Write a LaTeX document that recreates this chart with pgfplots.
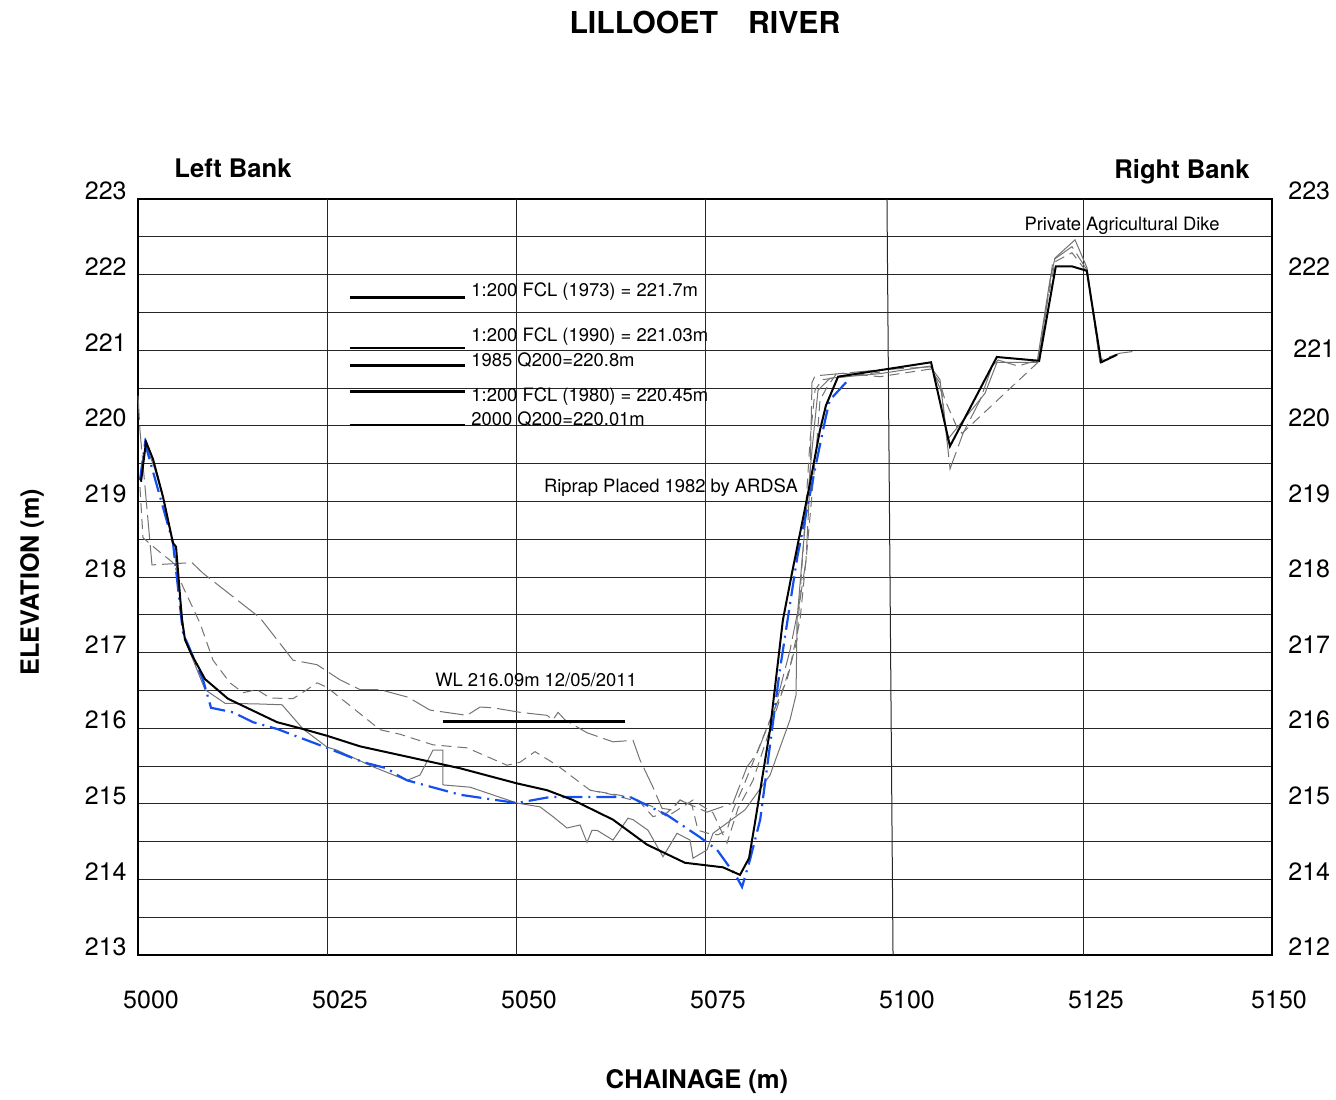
\documentclass[border=0pt]{standalone}
\usepackage{fontspec}
\setmainfont{TeX Gyre Heros}
\usepackage{pgfplots}
\pgfplotsset{compat=1.18}
\definecolor{surveyblue}{RGB}{20,80,240}
\colorlet{oldsurvey}{black!55}

\begin{document}
\begin{tikzpicture}
\useasboundingbox (0,0) rectangle (668pt,549.5pt);
% main cross-section axis (left elevation scale)
\begin{axis}[
  at={(69pt,72pt)}, anchor=south west,
  scale only axis, width=567pt, height=378pt,
  xmin=5000, xmax=5150, ymin=213, ymax=223,
  xtick={5000,5025,5050,5075,5100,5125,5150},
  xticklabels={5000,5025,5050,5075,5100,5125,\hspace{-6pt}5150},
  ytick={213,...,223},
  minor ytick={213.5,214.5,...,222.5},
  ymajorgrids, yminorgrids,
  major grid style={black!85, line width=0.5pt},
  minor grid style={black!85, line width=0.5pt},
  major tick length=0pt, minor tick length=0pt,
  axis line style={black, line width=0.6pt},
  tick label style={font=\fontsize{12.5}{15}\selectfont, inner sep=0pt},
  xticklabel style={anchor=center, yshift=-22.5pt, xshift=6.5pt},
  yticklabel style={anchor=east, xshift=-5.5pt, yshift=4pt},
  /pgf/number format/assume math mode=true,
  clip=false,
]
% vertical chainage lines
\draw[black!85, line width=0.5pt] (axis cs:5025,213) -- (axis cs:5025,223);
\draw[black!85, line width=0.5pt] (axis cs:5050,213) -- (axis cs:5050,223);
\draw[black!85, line width=0.5pt] (axis cs:5075,213) -- (axis cs:5075,223);
\draw[black!85, line width=0.5pt] (axis cs:5099.07,223) -- (axis cs:5099.87,213);
\draw[black!85, line width=0.5pt] (axis cs:5125,213) -- (axis cs:5125,223);

% earlier surveys (gray)
\addplot[oldsurvey, line width=0.5pt, dash pattern=on 12pt off 3pt] coordinates {
 (5000.0,220.40) (5000.26,219.94) (5001.85,218.16) (5007.14,218.19) (5008.60,218.05)
 (5016.14,217.46) (5020.50,216.90) (5023.68,216.84) (5026.72,216.64) (5029.37,216.51)
 (5032.01,216.51) (5035.71,216.41) (5038.62,216.24) (5043.52,216.17) (5045.24,216.28)
 (5046.96,216.27) (5050.53,216.21) (5054.10,216.17) (5054.89,216.11) (5055.56,216.21)
 (5056.48,216.11) (5059.39,215.94) (5062.83,215.82) (5065.48,215.84) (5066.40,215.58)
 (5068.12,215.22) (5069.31,214.94) (5070.63,214.92) (5071.69,215.05) (5075.26,214.89)
 (5078.70,215.01) (5080.56,215.49) (5081.88,215.67) (5084.26,216.27) (5086.24,217.03)
 (5087.57,217.70) (5088.36,218.22) (5088.89,219.28) (5089.15,220.57) (5089.55,220.66)
 (5098.15,220.74) (5104.89,220.78) (5106.35,220.43) (5107.41,219.43) (5109.13,219.90)
 (5111.38,220.34) (5112.96,220.78) (5113.76,220.87) (5116.40,220.79) (5119.05,220.87)
 (5119.71,221.23) (5121.03,222.19) (5123.54,222.37) (5125.53,222.06) (5127.25,220.87)
 (5129.89,220.96) (5132.14,220.99)
};
\addplot[oldsurvey, line width=0.5pt, dash pattern=on 5pt off 3pt] coordinates {
 (5000.26,219.19) (5000.66,218.52) (5002.51,218.36) (5004.63,218.19) (5005.95,217.87)
 (5008.20,217.39) (5009.92,216.90) (5012.17,216.60) (5013.89,216.47) (5015.74,216.51)
 (5017.46,216.40) (5020.50,216.39) (5022.35,216.51) (5023.68,216.60) (5025.00,216.54)
 (5027.65,216.33) (5032.01,215.98) (5034.66,215.92) (5039.02,215.78) (5043.52,215.74)
 (5048.81,215.51) (5050.53,215.55) (5052.51,215.69) (5055.42,215.51) (5059.79,215.18)
 (5065.08,215.09) (5068.12,214.96) (5069.97,214.83) (5073.41,215.05) (5076.06,214.88)
 (5077.91,214.48) (5079.37,214.94) (5081.35,215.31) (5084.66,216.31) (5086.24,216.81)
 (5087.57,217.43) (5088.49,218.36) (5089.81,219.81) (5090.21,220.34) (5091.14,220.51)
 (5092.46,220.70) (5098.15,220.65) (5104.76,220.75) (5106.08,220.57) (5106.75,220.34)
 (5108.33,219.98) (5108.99,219.90) (5119.05,220.84) (5120.24,221.62) (5121.30,222.17)
 (5123.54,222.29) (5125.53,222.03) (5127.25,220.84)
};
\addplot[oldsurvey, line width=0.5pt] coordinates {
 (5000.40,219.42) (5001.06,219.75) (5002.25,219.42) (5003.57,218.95) (5004.89,218.29)
 (5006.22,217.17) (5008.86,216.51) (5011.51,216.33) (5016.14,216.32) (5019.05,216.31)
 (5021.83,215.99) (5025.00,215.75) (5026.32,215.71) (5031.08,215.49) (5035.58,215.31)
 (5037.30,215.38) (5039.02,215.71) (5040.34,215.71) (5040.34,215.25) (5043.92,215.22)
 (5050.13,215.01) (5053.17,214.96) (5054.89,214.83) (5056.75,214.68) (5058.47,214.72)
 (5059.39,214.49) (5060.05,214.65) (5060.71,214.65) (5062.83,214.52) (5064.81,214.81)
 (5065.48,214.79) (5067.46,214.65) (5069.44,214.30) (5071.30,214.61) (5073.02,214.52)
 (5073.41,214.28) (5075.26,214.39) (5076.06,214.61) (5080.29,214.92) (5083.60,215.38)
 (5086.24,216.11) (5087.04,216.44) (5087.17,217.43) (5087.83,218.22) (5089.15,219.68)
 (5089.95,220.47) (5091.53,220.63) (5098.15,220.69) (5104.76,220.79) (5106.08,220.61)
 (5107.01,219.81) (5108.07,219.94) (5112.04,220.43) (5113.62,220.84) (5118.92,220.84)
 (5120.63,221.93) (5121.30,222.22) (5123.94,222.46) (5125.53,222.09) (5127.25,220.84)
 (5129.63,220.95)
};
\addplot[oldsurvey, line width=0.5pt, dash pattern=on 5pt off 3pt] coordinates {
 (5059.79,215.18) (5062.83,215.12) (5066.40,215.02) (5068.12,214.83) (5069.97,214.88)
 (5071.69,215.05) (5073.28,214.98) (5074.07,214.65) (5075.40,214.61) (5076.72,214.59)
 (5077.91,214.65) (5078.70,214.92) (5080.03,215.22) (5080.95,215.45) (5083.60,216.11)
 (5085.85,216.64) (5087.17,217.17) (5088.23,218.75) (5088.89,219.81) (5089.55,220.47)
 (5090.48,220.61) (5098.15,220.71)
};

% blue survey
\addplot[surveyblue, line width=1.1pt, dash pattern=on 10pt off 3pt on 1pt off 3pt] coordinates {
 (5000.26,219.28) (5000.93,219.77) (5004.63,218.45) (5005.95,217.26) (5008.60,216.64)
 (5009.66,216.27) (5012.57,216.21) (5015.20,216.08) (5018.40,215.99) (5025.00,215.74)
 (5029.80,215.55) (5032.90,215.47) (5034.30,215.38) (5035.60,215.31) (5042.60,215.12)
 (5050.10,215.01) (5054.50,215.09) (5065.10,215.09) (5070.00,214.85) (5074.30,214.56)
 (5076.60,214.39) (5079.20,214.03) (5079.90,213.90) (5080.95,214.26) (5082.30,214.79)
 (5084.90,216.77) (5087.20,218.26) (5089.80,219.55) (5090.90,220.08) (5091.50,220.34)
 (5093.80,220.59)
};

% latest survey (black)
\addplot[black, line width=1pt] coordinates {
 (5000.40,219.26) (5001.06,219.79) (5001.98,219.56) (5003.31,219.06) (5004.63,218.45)
 (5005.03,218.40) (5005.82,217.43) (5006.22,217.17) (5007.01,216.99) (5008.86,216.65)
 (5011.90,216.39) (5018.39,216.08) (5021.80,215.99) (5025.00,215.90) (5029.37,215.76)
 (5042.60,215.47) (5050.13,215.27) (5054.10,215.18) (5057.54,215.05) (5062.83,214.79)
 (5067.33,214.46) (5072.35,214.22) (5077.38,214.16) (5079.63,214.06) (5080.82,214.28)
 (5081.61,214.75) (5083.60,215.98) (5085.30,217.43) (5086.50,218.05) (5087.57,218.58)
 (5088.89,219.24) (5090.20,219.94) (5091.00,220.27) (5092.60,220.65) (5104.90,220.84)
 (5107.40,219.73) (5113.60,220.91) (5119.20,220.86) (5121.40,222.11) (5123.50,222.11)
 (5125.50,222.05) (5127.40,220.84) (5129.50,220.94)
};

% design levels
\addplot[black, line width=1.4pt] coordinates {(5028.0,221.70) (5043.25,221.70)};
\addplot[black, line width=1.4pt] coordinates {(5028.0,221.03) (5043.25,221.03)};
\addplot[black, line width=1.4pt] coordinates {(5028.0,220.80) (5043.25,220.80)};
\addplot[black, line width=1.4pt] coordinates {(5028.0,220.45) (5043.25,220.45)};
\addplot[black, line width=1.4pt] coordinates {(5028.0,220.01) (5043.25,220.01)};
% water level
\addplot[black, line width=1.4pt] coordinates {(5040.3,216.09) (5064.4,216.09)};

\begin{scope}[every node/.style={inner sep=0pt, font=\fontsize{9.2}{11}\selectfont}]
\node[anchor=west] at (axis cs:5044.05,221.77) {1:200 FCL (1973) = 221.7m};
\node[anchor=west] at (axis cs:5044.05,221.175) {1:200 FCL (1990) = 221.03m};
\node[anchor=west] at (axis cs:5044.05,220.87) {1985 Q200=220.8m};
\node[anchor=west] at (axis cs:5044.05,220.38) {1:200 FCL (1980) = 220.45m};
\node[anchor=west] at (axis cs:5044.05,220.09) {2000 Q200=220.01m};
\node at (axis cs:5130.16,222.64) {Private Agricultural Dike};
\node at (axis cs:5070.50,219.18) {Riprap Placed 1982 by ARDSA};
\node at (axis cs:5052.65,216.64) {WL 216.09m 12/05/2011};
\end{scope}

\node[font=\fontsize{15.1}{18}\selectfont\bfseries, inner sep=0pt] at (axis cs:5075.0,225.33) {LILLOOET\hspace{1em}RIVER};
\node[font=\fontsize{12.8}{15}\selectfont\bfseries, inner sep=0pt] at (axis cs:5012.57,223.40) {Left Bank};
\node[font=\fontsize{12.8}{15}\selectfont\bfseries, inner sep=0pt] at (axis cs:5138.1,223.36) {Right Bank};
\node[font=\fontsize{12.6}{15}\selectfont\bfseries, inner sep=0pt, rotate=90] at (axis cs:4985.98,217.93) {ELEVATION (m)};
\node[font=\fontsize{12.8}{15}\selectfont\bfseries, inner sep=0pt] at (axis cs:5073.94,211.32) {CHAINAGE (m)};
\end{axis}

% right-hand elevation labels
\begin{axis}[
  at={(69pt,72pt)}, anchor=south west,
  scale only axis, width=567pt, height=378pt,
  xmin=5000, xmax=5150, ymin=213, ymax=223,
  axis x line=none, axis y line*=right,
  axis line style={draw=none},
  ytick={213,...,223},
  yticklabels={212,214,215,216,217,218,219,220,\hspace{2.5pt}\raisebox{-3pt}[\height][0pt]{221},222,223},
  major tick length=0pt,
  yticklabel style={anchor=west, xshift=8pt, yshift=4pt, inner sep=0pt, font=\fontsize{12.5}{15}\selectfont},
]
\end{axis}
\end{tikzpicture}
\end{document}
